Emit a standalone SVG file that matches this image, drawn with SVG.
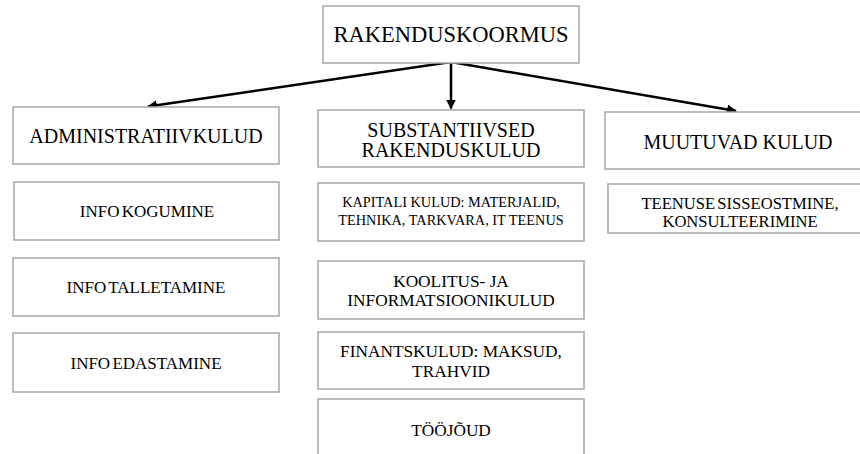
<svg xmlns="http://www.w3.org/2000/svg" width="860" height="454" viewBox="0 0 860 454">
<style>
.box{fill:#fff;stroke:#a6a6a6;stroke-width:1.5}
text{fill:#000;text-anchor:middle}
.t1{font-size:22.5px}
.t2{font-size:20px}
.t3{font-size:17px;word-spacing:-2px}
.t4{font-size:14.3px}
.t5{font-size:17.3px}
.t6{font-size:16.6px;word-spacing:-2px}
.conn{stroke:#000;stroke-width:2.5;fill:none}
</style>
<defs>
<marker id="ah" viewBox="0 0 10 10" refX="9" refY="5" markerWidth="4" markerHeight="4" orient="auto" markerUnits="strokeWidth">
<path d="M0,0 L10,5 L0,10 z" fill="#000"/>
</marker>
</defs>
<rect width="860" height="454" fill="#fff"/>
<g id="connectors">
<line class="conn" x1="451" y1="62" x2="148" y2="106.5" marker-end="url(#ah)"/>
<line class="conn" x1="451" y1="62" x2="451" y2="108.5" marker-end="url(#ah)"/>
<line class="conn" x1="451" y1="62" x2="736" y2="111" marker-end="url(#ah)"/>
</g>
<g id="rakenduskoormus"><rect class="box" x="323" y="6" width="256" height="57"/><text class="t1" font-family="Liberation Serif, serif" x="451" y="42">RAKENDUSKOORMUS</text></g>
<g id="administratiivkulud"><rect class="box" x="13" y="107" width="266" height="57"/><text class="t2" font-family="Liberation Serif, serif" x="146" y="143">ADMINISTRATIIVKULUD</text></g>
<g id="info-kogumine"><rect class="box" x="14" y="182" width="265" height="58"/><text class="t3" font-family="Liberation Serif, serif" x="147" y="217">INFO KOGUMINE</text></g>
<g id="info-talletamine"><rect class="box" x="13" y="258" width="266" height="58"/><text class="t3" font-family="Liberation Serif, serif" x="146" y="293">INFO TALLETAMINE</text></g>
<g id="info-edastamine"><rect class="box" x="13" y="333" width="266" height="59"/><text class="t3" font-family="Liberation Serif, serif" x="146" y="369">INFO EDASTAMINE</text></g>
<g id="substantiivsed"><rect class="box" x="318" y="110" width="266" height="57"/><text class="t2" font-family="Liberation Serif, serif" x="451" y="137">SUBSTANTIIVSED</text><text class="t2" font-family="Liberation Serif, serif" x="451" y="157">RAKENDUSKULUD</text></g>
<g id="kapitali"><rect class="box" x="318" y="183" width="266" height="58"/><text class="t4" font-family="Liberation Serif, serif" x="451" y="207">KAPITALI KULUD: MATERJALID,</text><text class="t4" font-family="Liberation Serif, serif" x="451" y="225">TEHNIKA, TARKVARA, IT TEENUS</text></g>
<g id="koolitus"><rect class="box" x="318" y="261" width="266" height="58"/><text class="t5" font-family="Liberation Serif, serif" x="451" y="287">KOOLITUS- JA</text><text class="t5" font-family="Liberation Serif, serif" x="451" y="306">INFORMATSIOONIKULUD</text></g>
<g id="finantskulud"><rect class="box" x="318" y="332" width="266" height="57"/><text class="t5" font-family="Liberation Serif, serif" x="451" y="357">FINANTSKULUD: MAKSUD,</text><text class="t5" font-family="Liberation Serif, serif" x="451" y="377">TRAHVID</text></g>
<g id="toojoud"><rect class="box" x="318" y="399" width="266" height="70"/><text class="t5" font-family="Liberation Serif, serif" x="451" y="436">TÖÖJÕUD</text></g>
<g id="muutuvad"><rect class="box" x="605" y="112" width="266" height="57"/><text class="t2" font-family="Liberation Serif, serif" x="738" y="149">MUUTUVAD KULUD</text></g>
<g id="teenuse"><rect class="box" x="608" y="184" width="264" height="49"/><text class="t6" font-family="Liberation Serif, serif" x="740" y="209">TEENUSE SISSEOSTMINE,</text><text class="t6" font-family="Liberation Serif, serif" x="740" y="227">KONSULTEERIMINE</text></g>
</svg>
